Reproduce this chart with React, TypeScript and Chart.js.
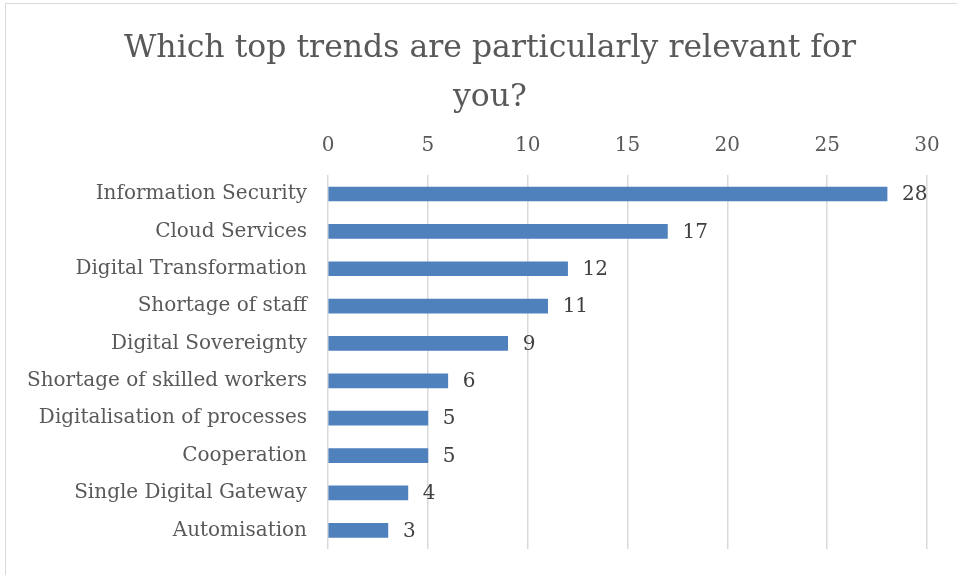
import React, { useEffect, useRef } from "react";
import { Chart, registerables } from "chart.js";

Chart.register(...registerables);

const categories = [
  "Information Security",
  "Cloud Services",
  "Digital Transformation",
  "Shortage of staff",
  "Digital Sovereignty",
  "Shortage of skilled workers",
  "Digitalisation of processes",
  "Cooperation",
  "Single Digital Gateway",
  "Automisation",
];
const values = [28, 17, 12, 11, 9, 6, 5, 5, 4, 3];
const titleLines = ["Which top trends are particularly relevant for", "you?"];
const FONT = "'DejaVu Serif', 'Liberation Serif', serif";

const valueLabels = {
  id: "valueLabels",
  afterDatasetsDraw(chart: any) {
    const ctx = chart.ctx;
    const meta = chart.getDatasetMeta(0);
    ctx.save();
    ctx.fillStyle = "#404040";
    ctx.font = `20px ${FONT}`;
    ctx.textAlign = "left";
    ctx.textBaseline = "middle";
    meta.data.forEach((bar: any, i: number) => {
      ctx.fillText(String(values[i]), bar.x + 15, bar.y + 1);
    });
    ctx.restore();
  },
};

// Center the title over the plot region like the original (slightly right of canvas center)
const titleShift = {
  id: "titleShift",
  afterLayout(chart: any) {
    const tb = chart.titleBlock;
    if (tb) {
      tb.left = 53;
      tb.right = chart.chartArea.right;
      tb.width = tb.right - tb.left;
    }
  },
};

export default function App() {
  const ref = useRef<HTMLCanvasElement>(null);
  useEffect(() => {
    const chart = new Chart(ref.current!, {
      type: "bar",
      data: {
        labels: categories,
        datasets: [
          {
            data: values,
            backgroundColor: "#4F81BD",
            borderWidth: 0,
            barThickness: 14,
          },
        ],
      },
      options: {
        indexAxis: "y",
        animation: false,
        responsive: false,
        layout: { padding: { left: 0, right: 30, top: 0, bottom: 26 } },
        plugins: {
          legend: { display: false },
          tooltip: { enabled: false },
          title: {
            display: true,
            text: titleLines,
            color: "#595959",
            font: { family: FONT, size: 31.5, weight: "normal", lineHeight: 1.56 },
            padding: { top: 24, bottom: -5 },
          },
        },
        scales: {
          x: {
            position: "top",
            min: 0,
            max: 30,
            ticks: {
              stepSize: 5,
              color: "#595959",
              font: { family: FONT, size: 20 },
              padding: 17,
            },
            grid: { color: "#D9D9D9", drawTicks: false, lineWidth: 1.5 },
            border: { display: false },
          },
          y: {
            ticks: {
              color: "#595959",
              font: { family: FONT, size: 20 },
              padding: 21,
            },
            grid: { display: false, drawTicks: false },
            border: { display: false },
            afterFit: (scale: any) => {
              scale.width = 328;
              scale.paddingTop = 0;
              scale.paddingBottom = 0;
            },
          },
        },
      },
      plugins: [valueLabels, titleShift],
    });
    return () => chart.destroy();
  }, []);
  return (
    <div style={{ position: "fixed", left: 0, top: 0, width: 957, height: 575, background: "#fff" }}>
      <div
        style={{
          position: "absolute",
          left: 5,
          top: 3,
          width: 952,
          height: 572,
          borderLeft: "1px solid #D9D9D9",
          borderTop: "1px solid #D9D9D9",
        }}
      />
      <canvas ref={ref} width={957} height={575} style={{ position: "absolute", left: 0, top: 0 }} />
    </div>
  );
}
